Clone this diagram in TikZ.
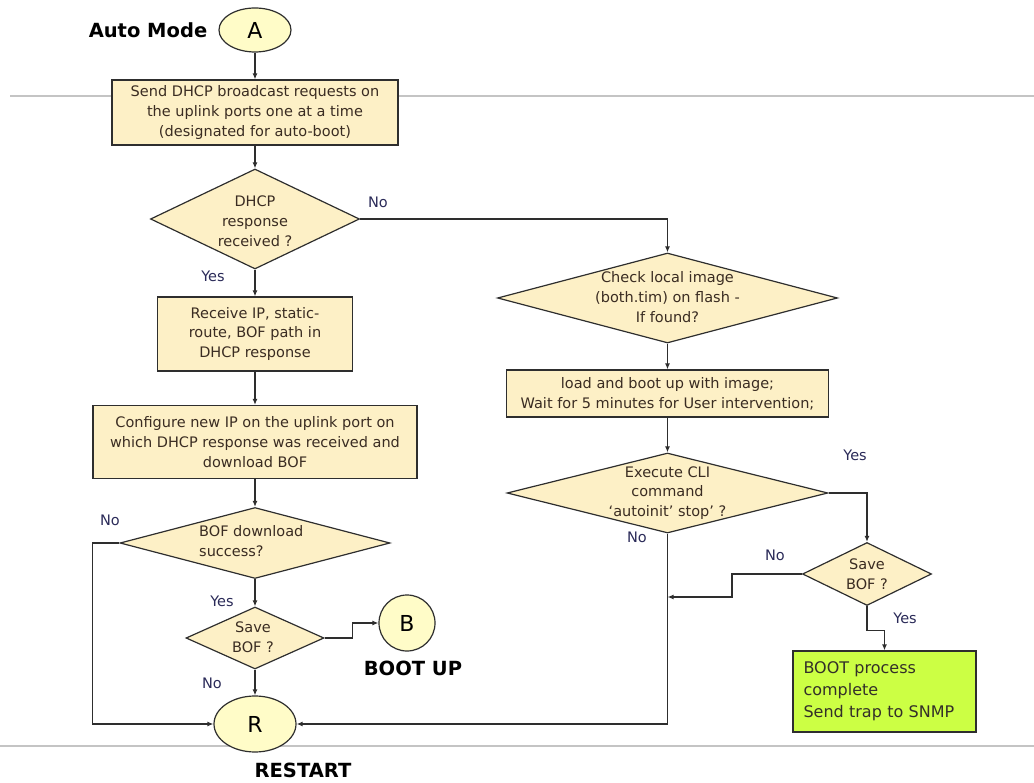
\documentclass[tikz,border=0pt]{standalone}
\usepackage{fontspec}
\setmainfont{DejaVu Sans}
\usetikzlibrary{shapes.geometric,arrows.meta}
\definecolor{boxfill}{HTML}{FDF0C6}
\definecolor{capfill}{HTML}{FFFCC8}
\definecolor{donefill}{HTML}{CCFF44}
\definecolor{linec}{HTML}{2E2E2E}
\definecolor{rulec}{HTML}{C4C4C4}
\definecolor{txtc}{HTML}{3A2C22}
\definecolor{yesno}{HTML}{2A2A58}
\begin{document}
\begin{tikzpicture}[x=1pt,y=-1pt,
  every node/.style={font=\fontsize{14.5}{19.8}\selectfont, text=txtc},
  line/.style={draw=linec, line width=1.2pt},
  arr/.style={line, -{Latex[length=6pt,width=5pt]}},
  stepbox/.style={draw=linec, line width=1.2pt, fill=boxfill, align=center, inner sep=0pt},
  dia/.style={diamond, draw=linec, line width=1.2pt, fill=boxfill, inner sep=0pt},
  diatext/.style={align=center, inner sep=0pt},
  conn/.style={ellipse, draw=linec, line width=1.2pt, fill=capfill, inner sep=0pt,
              text=black, font=\fontsize{22}{24}\selectfont},
  title/.style={text=black, font=\fontsize{19.5}{22}\selectfont\bfseries},
  yn/.style={text=yesno, font=\fontsize{14.5}{16}\selectfont},
]
\useasboundingbox (0,0) rectangle (1034,783);

% horizontal rules behind the chart
\draw[rulec, line width=2pt] (10,96) -- (1034,96);
\draw[rulec, line width=2pt] (0,746) -- (1034,746);

% start connector
\node[title] (automode) at (148,30) {Auto Mode};
\node[conn, minimum width=72pt, minimum height=44pt] (A) at (255,30) {A};

% left column
\node[stepbox, minimum width=286pt, minimum height=65pt] (send) at (255,112.5)
  {Send DHCP broadcast requests on\\the uplink ports one at a time\\(designated for auto-boot)};
\node[dia, minimum width=209pt, minimum height=100pt] (dhcp) at (255,219) {};
\node[diatext] (dhcpt) at (255,221) {DHCP\\response\\received ?};
\node[stepbox, minimum width=195pt, minimum height=74pt] (recv) at (255,334)
  {Receive IP, static-\\route, BOF path in\\DHCP response};
\node[stepbox, minimum width=324pt, minimum height=73pt] (config) at (255,442)
  {Configure new IP on the uplink port on\\which DHCP response was received and\\download BOF};
\node[dia, minimum width=270pt, minimum height=71pt] (bofok) at (255,543) {};
\node[diatext, align=left, anchor=west] (bofokt) at (199,541) {BOF download\\success?};
\node[dia, minimum width=138pt, minimum height=62pt] (saveL) at (255,638) {};
\node[diatext] (saveLt) at (253,637) {Save\\BOF ?};
\node[conn, minimum width=56pt, minimum height=56pt] (B) at (407,623) {B};
\node[title] (bootup) at (413,668) {BOOT UP};
\node[conn, minimum width=82pt, minimum height=56pt] (R) at (255,724) {R};
\node[title] (restart) at (303,770) {RESTART};

% right column
\node[dia, minimum width=340pt, minimum height=90pt] (img) at (667.5,298) {};
\node[diatext] (imgt) at (667.5,297) {Check local image\\(both.tim) on flash -\\If found?};
\node[stepbox, minimum width=322pt, minimum height=47pt] (load) at (667.5,393.5)
  {load and boot up with image;\\Wait for 5 minutes for User intervention;};
\node[dia, minimum width=321pt, minimum height=80pt] (cli) at (667.5,493) {};
\node[diatext] (clit) at (667.5,493) {Execute CLI\\command\\`autoinit' stop' ?};
\node[dia, minimum width=129pt, minimum height=63pt] (saveR) at (867,574) {};
\node[diatext] (saveRt) at (867,574) {Save\\BOF ?};
\node[stepbox, fill=donefill, align=left, minimum width=183pt, minimum height=81pt,
      text width=162pt, font=\fontsize{16}{22}\selectfont, text=black!85!olive] (done) at (884.5,691.5)
  {BOOT process\\complete\\Send trap to SNMP};
\coordinate (join) at (667.5,597);

% connectors
\draw[arr] (A) -- (send);
\draw[arr] (send) -- (dhcp.north);
\draw[arr] (dhcp.south) -- (recv);
\draw[arr] (recv) -- (config);
\draw[arr] (config) -- (bofok.north);
\draw[arr] (bofok.south) -- (saveL.north);
\draw[arr] (saveL.south) -- (R.north);
\draw[arr] (saveL.east) -| ([xshift=-26pt]B.west) -- (B.west);
\draw[arr] (bofok.west) -- ++(-27,0) |- (R.west);
\draw[arr] (dhcp.east) -| (img.north);
\draw[arr] (img.south) -- (load);
\draw[arr] (load) -- (cli.north);
\draw[arr] (cli.east) -| (saveR.north);
\draw[arr] (cli.south) |- (R.east);
\draw[arr] (saveR.west) -- ++(-70,0) |- (join);
\draw[arr] (saveR.south) -- ++(0,24) -| (done.north);

% branch labels
\node[yn] (n1) at (378,202) {No};
\node[yn] (y1) at (213,276) {Yes};
\node[yn] (n2) at (110,520) {No};
\node[yn] (y2) at (222,601) {Yes};
\node[yn] (n3) at (212,683) {No};
\node[yn] (y3) at (855,455) {Yes};
\node[yn] (n4) at (775,555) {No};
\node[yn] (n5) at (637,537) {No};
\node[yn] (y4) at (905,618) {Yes};
\end{tikzpicture}
\end{document}
